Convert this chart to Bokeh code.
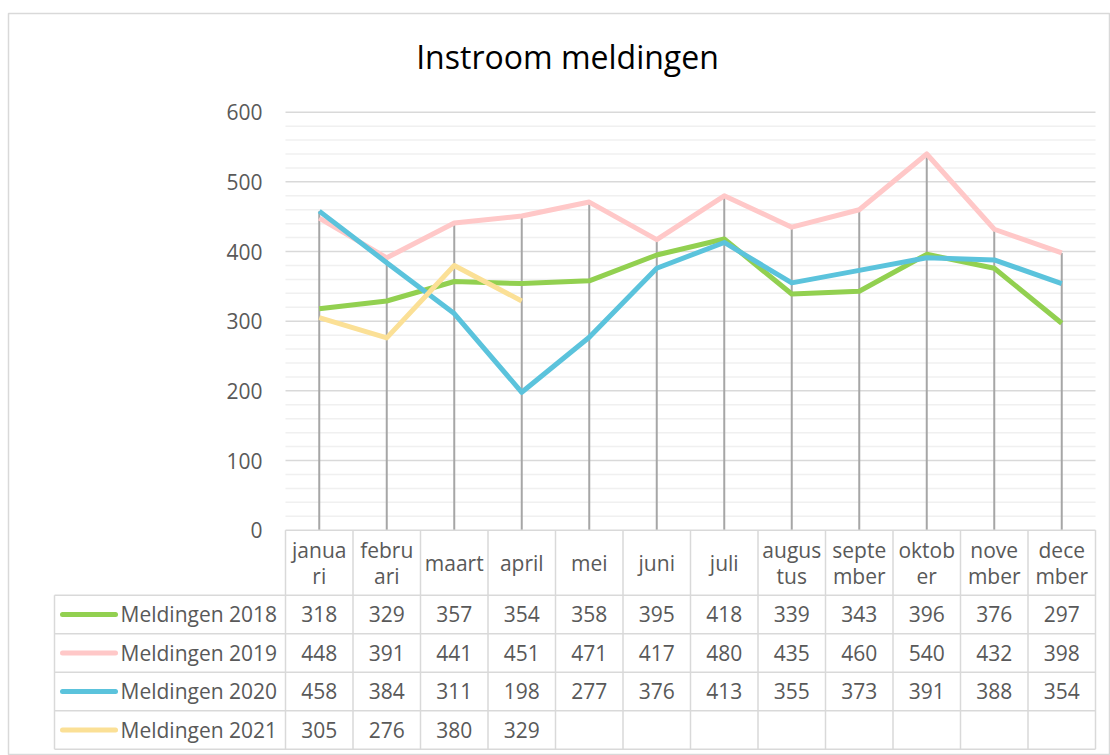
from bokeh.plotting import figure
from bokeh.models import Range1d, LinearAxis, FixedTicker, Label
from bokeh.core.properties import value
from bokeh.embed import file_html
from bokeh.resources import INLINE

# ---------------- data ----------------
title_text = "Instroom meldingen"
months = ["janua\nri", "febru\nari", "maart", "april", "mei", "juni", "juli",
          "augus\ntus", "septe\nmber", "oktob\ner", "nove\nmber", "dece\nmber"]
series_names = ["Meldingen 2018", "Meldingen 2019", "Meldingen 2020", "Meldingen 2021"]
m2018 = [318, 329, 357, 354, 358, 395, 418, 339, 343, 396, 376, 297]
m2019 = [448, 391, 441, 451, 471, 417, 480, 435, 460, 540, 432, 398]
m2020 = [458, 384, 311, 198, 277, 376, 413, 355, 373, 391, 388, 354]
m2021 = [305, 276, 380, 329]
y_ticks = [0, 100, 200, 300, 400, 500, 600]
minor_step = 20

series = [m2018, m2019, m2020, m2021]
colors = ["#92d050", "#ffc8c8", "#5bc3dc", "#fbe096"]

# ---------------- layout constants (picture pixels) ----------------
FONT = "Open Sans"
TXT = "#595959"
BORDER = "#d9d9d9"
CAT_W = 67.5          # px per month
CAT0_X = 318.75       # picture x of first month centre
ZERO_Y = 529.7        # picture y of value 0
PX_PER_UNIT = 0.69667 # px per value unit
W, H = 1110, 755
FRAME_L, FRAME_T = 8, 13


def px_x(px):
    return (px - CAT0_X) / CAT_W


def px_y(py):
    return (ZERO_Y - py) / PX_PER_UNIT


p = figure(width=W, height=H, output_backend="svg", toolbar_location=None,
           x_range=Range1d(px_x(FRAME_L), px_x(W)),
           y_range=Range1d(px_y(H), px_y(FRAME_T)),
           x_axis_type=None, y_axis_type=None,
           min_border_left=FRAME_L, min_border_right=0, min_border_bottom=0,
           min_border_top=FRAME_T)
p.outline_line_color = BORDER
p.outline_line_width = 1.5
p.background_fill_color = "white"
p.border_fill_color = "white"
p.xgrid.visible = False
p.ygrid.visible = False

n = len(months)
idx = list(range(n))
left_edge = -0.5
right_edge = n - 0.5

# ---------------- gridlines ----------------
minor = [v for v in range(y_ticks[0], y_ticks[-1], minor_step) if v % 100 != 0]
p.segment(x0=[left_edge] * len(minor), x1=[right_edge] * len(minor), y0=minor, y1=minor,
          line_color="#f0f0f0", line_width=1.5)
majors = y_ticks[1:]
p.segment(x0=[left_edge] * len(majors), x1=[right_edge] * len(majors), y0=majors, y1=majors,
          line_color=BORDER, line_width=1.5)

# ---------------- drop lines ----------------
tops = [max(s[i] for s in series if i < len(s)) for i in idx]
p.segment(x0=idx, x1=idx, y0=[0] * n, y1=tops, line_color="#a6a6a6", line_width=2)

# ---------------- series lines ----------------
for s, c in zip(series, colors):
    p.line(x=idx[:len(s)], y=s, line_color=c, line_width=5, line_join="round")

# ---------------- y axis ----------------
yaxis = LinearAxis(ticker=FixedTicker(ticks=y_ticks), fixed_location=left_edge)
yaxis.axis_line_color = None
yaxis.major_tick_line_color = None
yaxis.minor_tick_line_color = None
yaxis.major_label_standoff = 17
yaxis.major_label_text_font = FONT
yaxis.major_label_text_font_size = "21px"
yaxis.major_label_text_color = TXT
p.add_layout(yaxis, "left")

# ---------------- data table ----------------
HEADER_H = 65
ROW_H = 38.5
tbl_top = ZERO_Y
hdr_bot = tbl_top + HEADER_H
row_tops = [hdr_bot + ROW_H * k for k in range(len(series) + 1)]
tbl_left = px_x(54)

# horizontal borders
p.segment(x0=[left_edge], x1=[right_edge], y0=[0], y1=[0], line_color=BORDER, line_width=1.5)
hy = [px_y(t) for t in row_tops]
p.segment(x0=[tbl_left] * len(hy), x1=[right_edge] * len(hy), y0=hy, y1=hy,
          line_color=BORDER, line_width=1.5)
# vertical borders
vx = [i - 0.5 for i in range(n + 1)]
p.segment(x0=vx, x1=vx, y0=[0] * len(vx), y1=[px_y(row_tops[-1])] * len(vx),
          line_color=BORDER, line_width=1.5)
p.segment(x0=[tbl_left], x1=[tbl_left], y0=[px_y(hdr_bot)], y1=[px_y(row_tops[-1])],
          line_color=BORDER, line_width=1.5)

# header text
p.text(x=idx, y=[px_y((tbl_top + hdr_bot) / 2)] * n, text=months,
       text_font=value(FONT), text_font_size="21px", text_color=TXT,
       text_align="center", text_baseline="middle", text_line_height=0.94)

# rows
for k, (s, c, name) in enumerate(zip(series, colors, series_names)):
    cy = px_y(row_tops[k] + ROW_H / 2)
    p.text(x=idx[:len(s)], y=[cy] * len(s), text=[str(v) for v in s],
           text_font=value(FONT), text_font_size="21px", text_color=TXT,
           text_align="center", text_baseline="middle")
    p.segment(x0=[px_x(62)], x1=[px_x(115)], y0=[cy], y1=[cy],
              line_color=c, line_width=5, line_cap="round")
    p.text(x=[px_x(120)], y=[cy], text=[name],
           text_font=value(FONT), text_font_size="21px", text_color=TXT,
           text_align="left", text_baseline="middle")

# ---------------- title ----------------
p.add_layout(Label(x=px_x(567), y=px_y(56), text=title_text, text_font=FONT,
                   text_font_size="32px", text_color="#000000",
                   text_align="center", text_baseline="alphabetic"))

open("out.html", "w").write(file_html(p, INLINE))
